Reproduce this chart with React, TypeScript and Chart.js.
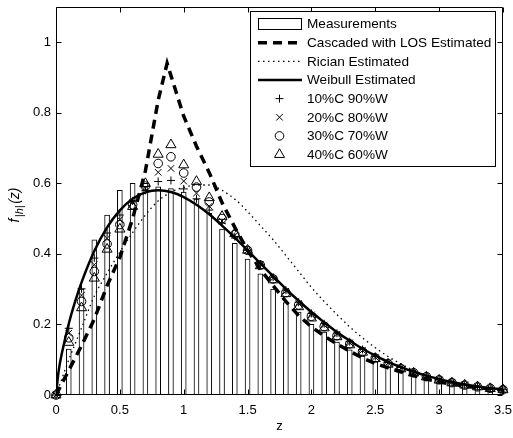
import React, { useEffect, useRef } from 'react';
import { Chart, registerables } from 'chart.js';

Chart.register(...registerables);

const FONT = '"Liberation Sans", Arial, Helvetica, sans-serif';

// Measured histogram (bin centres and normalised heights)
const histZ = [
  0.1, 0.2, 0.3, 0.4, 0.5, 0.6, 0.7, 0.8, 0.9, 1.0, 1.1, 1.2, 1.3, 1.4, 1.5, 1.6, 1.7,
  1.8, 1.9, 2.0, 2.1, 2.2, 2.3, 2.4, 2.5, 2.6, 2.7, 2.8, 2.9, 3.0, 3.1, 3.2, 3.3, 3.4,
];
const histDensity = [
  0.13, 0.3, 0.44, 0.51, 0.58, 0.6, 0.6, 0.59, 0.585, 0.575, 0.555, 0.515, 0.47, 0.43,
  0.385, 0.343, 0.3, 0.262, 0.235, 0.2, 0.178, 0.15, 0.128, 0.11, 0.095, 0.08, 0.068,
  0.058, 0.05, 0.042, 0.035, 0.03, 0.024, 0.02,
];

// Fitted densities
const curveZ = [
  0, 0.02, 0.05, 0.1, 0.15, 0.2, 0.3, 0.4, 0.5, 0.6, 0.7, 0.8, 0.9, 1.0, 1.1, 1.2, 1.3,
  1.4, 1.5, 1.6, 1.7, 1.8, 1.9, 2.0, 2.1, 2.2, 2.3, 2.4, 2.5, 2.6, 2.7, 2.8, 2.9, 3.0,
  3.1, 3.2, 3.3, 3.4, 3.5,
];
const weibullPdf = [
  0, 0.066, 0.125, 0.202, 0.265, 0.319, 0.408, 0.475, 0.523, 0.556, 0.574, 0.58, 0.575,
  0.561, 0.539, 0.512, 0.48, 0.446, 0.41, 0.373, 0.337, 0.301, 0.267, 0.235, 0.206,
  0.178, 0.154, 0.131, 0.112, 0.094, 0.079, 0.066, 0.055, 0.045, 0.037, 0.03, 0.024,
  0.019, 0.016,
];
const ricianPdf = [
  0, 0.02, 0.05, 0.1, 0.145, 0.19, 0.28, 0.345, 0.405, 0.46, 0.51, 0.55, 0.575, 0.588,
  0.595, 0.595, 0.58, 0.555, 0.52, 0.48, 0.44, 0.395, 0.35, 0.305, 0.265, 0.228, 0.193,
  0.162, 0.134, 0.109, 0.088, 0.07, 0.056, 0.044, 0.035, 0.028, 0.022, 0.018, 0.015,
];

const cascadedZ = [
  0, 0.1, 0.2, 0.3, 0.4, 0.5, 0.6, 0.7, 0.8, 0.87, 0.9, 1.0, 1.1, 1.2, 1.3, 1.4, 1.5,
  1.6, 1.7, 1.8, 1.9, 2.0, 2.1, 2.2, 2.3, 2.4, 2.5, 2.6, 2.7, 2.8, 2.9, 3.0, 3.1, 3.2,
  3.3, 3.4, 3.5,
];
const cascadedPdf = [
  0, 0.07, 0.14, 0.215, 0.31, 0.39, 0.5, 0.635, 0.835, 0.94, 0.905, 0.79, 0.705, 0.63,
  0.545, 0.475, 0.41, 0.356, 0.31, 0.265, 0.225, 0.193, 0.167, 0.145, 0.124, 0.105,
  0.089, 0.077, 0.066, 0.055, 0.045, 0.037, 0.031, 0.025, 0.021, 0.017, 0.014,
];

// Mixture estimates (cascaded / Weibull weights)
const mixZ = [
  0, 0.1, 0.2, 0.3, 0.4, 0.5, 0.6, 0.7, 0.8, 0.9, 1.0, 1.1, 1.2, 1.3, 1.4, 1.5, 1.6,
  1.7, 1.8, 1.9, 2.0, 2.1, 2.2, 2.3, 2.4, 2.5, 2.6, 2.7, 2.8, 2.9, 3.0, 3.1, 3.2, 3.3,
  3.4, 3.5,
];
const mix10 = [
  0, 0.189, 0.301, 0.388, 0.459, 0.51, 0.55, 0.58, 0.605, 0.608, 0.584, 0.556, 0.524,
  0.487, 0.449, 0.41, 0.371, 0.334, 0.297, 0.263, 0.231, 0.202, 0.175, 0.151, 0.129,
  0.109, 0.092, 0.078, 0.065, 0.054, 0.044, 0.036, 0.029, 0.024, 0.019, 0.015,
];
const mix20 = [
  0, 0.175, 0.283, 0.369, 0.444, 0.497, 0.545, 0.586, 0.631, 0.642, 0.606, 0.572, 0.535,
  0.493, 0.452, 0.41, 0.37, 0.331, 0.294, 0.259, 0.227, 0.198, 0.172, 0.148, 0.126,
  0.107, 0.091, 0.076, 0.064, 0.053, 0.043, 0.036, 0.029, 0.024, 0.019, 0.015,
];
const mix30 = [
  0, 0.162, 0.265, 0.35, 0.428, 0.483, 0.539, 0.592, 0.656, 0.675, 0.629, 0.589, 0.547,
  0.5, 0.455, 0.41, 0.368, 0.329, 0.29, 0.255, 0.223, 0.194, 0.168, 0.145, 0.123, 0.105,
  0.089, 0.075, 0.063, 0.052, 0.043, 0.035, 0.028, 0.023, 0.019, 0.015,
];
const mix40 = [
  0, 0.149, 0.247, 0.331, 0.413, 0.47, 0.534, 0.599, 0.682, 0.709, 0.652, 0.605, 0.559,
  0.506, 0.457, 0.41, 0.366, 0.326, 0.287, 0.25, 0.218, 0.19, 0.165, 0.142, 0.121, 0.103,
  0.087, 0.074, 0.062, 0.051, 0.042, 0.034, 0.028, 0.023, 0.018, 0.015,
];

const xTicks = [0, 0.5, 1, 1.5, 2, 2.5, 3, 3.5];
const yTicks = [0, 0.2, 0.4, 0.6, 0.8, 1];

const legendLabels = [
  'Measurements',
  'Cascaded with LOS Estimated',
  'Rician Estimated',
  'Weibull Estimated',
  '10%C 90%W',
  '20%C 80%W',
  '30%C 70%W',
  '40%C 60%W',
];

const W = 513;
const H = 438;
const TICK = 5;

const pts = (xs: number[], ys: number[]) => xs.map((x, i) => ({ x, y: ys[i] }));

function drawMarker(ctx: CanvasRenderingContext2D, style: string, x: number, y: number, r: number) {
  ctx.beginPath();
  if (style === 'cross') {
    ctx.moveTo(x - r, y);
    ctx.lineTo(x + r, y);
    ctx.moveTo(x, y - r);
    ctx.lineTo(x, y + r);
  } else if (style === 'crossRot') {
    const o = r * Math.SQRT1_2;
    ctx.moveTo(x - o, y - o);
    ctx.lineTo(x + o, y + o);
    ctx.moveTo(x - o, y + o);
    ctx.lineTo(x + o, y - o);
  } else if (style === 'circle') {
    ctx.arc(x, y, r, 0, Math.PI * 2);
  } else {
    ctx.moveTo(x, y - r);
    ctx.lineTo(x + Math.sin((2 * Math.PI) / 3) * r, y + 0.5 * r);
    ctx.lineTo(x - Math.sin((2 * Math.PI) / 3) * r, y + 0.5 * r);
    ctx.closePath();
  }
  ctx.stroke();
}

const markerStyles = [
  { style: 'cross', radius: 4 },
  { style: 'crossRot', radius: 4.6 },
  { style: 'circle', radius: 4.3 },
  { style: 'triangle', radius: 5.8 },
];

const frameAndLegend = {
  id: 'frameAndLegend',
  afterDraw(chart: any) {
    const { ctx, chartArea: a } = chart;
    const xs = chart.scales.x;
    const ys = chart.scales.y;
    const l = Math.round(a.left) + 0.5;
    const r = Math.round(a.right) - 0.5;
    const t = Math.round(a.top) + 0.5;
    const b = Math.round(a.bottom) - 0.5;

    ctx.save();
    // axes box with inward ticks
    ctx.strokeStyle = '#000';
    ctx.lineWidth = 1;
    ctx.setLineDash([]);
    ctx.beginPath();
    ctx.rect(l, t, r - l, b - t);
    xTicks.forEach((v) => {
      const p = Math.round(xs.getPixelForValue(v)) + 0.5;
      ctx.moveTo(p, b);
      ctx.lineTo(p, b - TICK);
      ctx.moveTo(p, t);
      ctx.lineTo(p, t + TICK);
    });
    yTicks.forEach((v) => {
      const p = Math.round(ys.getPixelForValue(v)) + 0.5;
      ctx.moveTo(l, p);
      ctx.lineTo(l + TICK, p);
      ctx.moveTo(r, p);
      ctx.lineTo(r - TICK, p);
    });
    ctx.stroke();

    // axis titles
    ctx.fillStyle = '#000';
    ctx.font = `13px ${FONT}`;
    ctx.textAlign = 'center';
    ctx.textBaseline = 'middle';
    ctx.fillText('z', (a.left + a.right) / 2, 426);

    ctx.save();
    ctx.translate(19, 205);
    ctx.rotate(-Math.PI / 2);
    ctx.textAlign = 'left';
    ctx.textBaseline = 'alphabetic';
    const mainFont = `italic 14px ${FONT}`;
    const subFont = `italic 11px ${FONT}`;
    ctx.font = mainFont;
    const wf = ctx.measureText('f').width;
    const wz = ctx.measureText('(z)').width;
    ctx.font = subFont;
    const ws = ctx.measureText('|h|').width;
    const gap = 1.5;
    let tx = -(wf + gap + ws + gap + wz) / 2;
    ctx.font = mainFont;
    ctx.fillText('f', tx, 0);
    tx += wf + gap;
    ctx.font = subFont;
    ctx.fillText('|h|', tx, 3.5);
    tx += ws + gap;
    ctx.font = mainFont;
    ctx.fillText('(z)', tx, 0);
    ctx.restore();

    // legend
    const box = { left: 250.5, top: 11.5, right: 495.5, bottom: 166.5 };
    ctx.fillStyle = '#fff';
    ctx.fillRect(box.left, box.top, box.right - box.left, box.bottom - box.top);
    ctx.strokeStyle = '#000';
    ctx.lineWidth = 1;
    ctx.strokeRect(box.left, box.top, box.right - box.left, box.bottom - box.top);

    const sx0 = 258;
    const sx1 = 302;
    const mx = 279.5;
    const textX = 307;
    const rowY = (i: number) => 24 + i * 18.65;

    ctx.font = `13.6px ${FONT}`;
    ctx.textAlign = 'left';
    ctx.textBaseline = 'middle';
    legendLabels.forEach((label, i) => {
      const y = rowY(i);
      ctx.save();
      ctx.strokeStyle = '#000';
      if (i === 0) {
        ctx.lineWidth = 1;
        ctx.fillStyle = '#fff';
        ctx.fillRect(sx0 + 0.5, y - 5.5, sx1 - sx0 - 1, 11);
        ctx.strokeRect(sx0 + 0.5, y - 5.5, sx1 - sx0 - 1, 11);
      } else if (i === 1) {
        ctx.lineWidth = 3.5;
        ctx.setLineDash([9, 6]);
        ctx.beginPath();
        ctx.moveTo(sx0, y);
        ctx.lineTo(sx1, y);
        ctx.stroke();
      } else if (i === 2) {
        ctx.lineWidth = 1.3;
        ctx.setLineDash([1.5, 3.5]);
        ctx.beginPath();
        ctx.moveTo(sx0, y);
        ctx.lineTo(sx1, y);
        ctx.stroke();
      } else if (i === 3) {
        ctx.lineWidth = 2.5;
        ctx.beginPath();
        ctx.moveTo(sx0, y);
        ctx.lineTo(sx1, y);
        ctx.stroke();
      } else {
        const m = markerStyles[i - 4];
        ctx.lineWidth = 1;
        drawMarker(ctx, m.style, mx, y, m.radius);
      }
      ctx.restore();
      ctx.fillStyle = '#000';
      ctx.fillText(label, textX, y + 0.5);
    });

    ctx.restore();
  },
};

export default function App() {
  const canvasRef = useRef<HTMLCanvasElement | null>(null);

  useEffect(() => {
    const canvas = canvasRef.current;
    if (!canvas) return;

    const markerSets = [mix10, mix20, mix30, mix40].map((values, i) => ({
      type: 'line' as const,
      label: legendLabels[4 + i],
      data: pts(mixZ, values),
      showLine: false,
      pointStyle: markerStyles[i].style,
      pointRadius: markerStyles[i].radius,
      pointBorderColor: '#000',
      pointBackgroundColor: 'rgba(0,0,0,0)',
      pointBorderWidth: 1,
      clip: false as any,
      order: 1 + i,
    }));

    const chart = new Chart(canvas, {
      type: 'line',
      data: {
        datasets: [
          ...markerSets,
          {
            type: 'line',
            label: legendLabels[3],
            data: pts(curveZ, weibullPdf),
            borderColor: '#000',
            borderWidth: 2.5,
            pointRadius: 0,
            cubicInterpolationMode: 'monotone',
            order: 5,
          },
          {
            type: 'line',
            label: legendLabels[1],
            data: pts(cascadedZ, cascadedPdf),
            borderColor: '#000',
            borderWidth: 3.5,
            borderDash: [9, 6],
            borderCapStyle: 'butt',
            pointRadius: 0,
            tension: 0,
            order: 6,
          },
          {
            type: 'line',
            label: legendLabels[2],
            data: pts(curveZ, ricianPdf),
            borderColor: '#000',
            borderWidth: 1.3,
            borderDash: [1.5, 3.5],
            pointRadius: 0,
            cubicInterpolationMode: 'monotone',
            order: 7,
          },
          {
            type: 'bar',
            label: legendLabels[0],
            data: pts(histZ, histDensity),
            backgroundColor: '#fff',
            borderColor: '#000',
            borderWidth: 1,
            barThickness: 5,
            order: 10,
          } as any,
        ],
      },
      options: {
        responsive: false,
        animation: false,
        events: [],
        layout: { padding: { left: 0, top: 4, right: 10, bottom: 0 } },
        plugins: {
          legend: { display: false },
          tooltip: { enabled: false },
        },
        scales: {
          x: {
            type: 'linear',
            min: 0,
            max: 3.5,
            offset: false,
            grid: { display: false, drawTicks: false },
            border: { display: false },
            ticks: {
              color: '#000',
              font: { family: FONT, size: 13 },
              padding: 8,
              maxRotation: 0,
              autoSkip: false,
              callback: (v: any) => String(v),
            },
            afterBuildTicks: (s: any) => {
              s.ticks = xTicks.map((value) => ({ value }));
            },
            afterFit: (s: any) => {
              s.height = H - 395;
              s.paddingLeft = 0;
              s.paddingRight = 0;
            },
          },
          y: {
            type: 'linear',
            min: 0,
            max: 1.1,
            grid: { display: false, drawTicks: false },
            border: { display: false },
            ticks: {
              color: '#000',
              font: { family: FONT, size: 13 },
              padding: 5,
              autoSkip: false,
              callback: (v: any) => String(v),
            },
            afterBuildTicks: (s: any) => {
              s.ticks = yTicks.map((value) => ({ value }));
            },
            afterFit: (s: any) => {
              s.width = 56;
              s.paddingTop = 0;
              s.paddingBottom = 0;
            },
          },
        },
      },
      plugins: [frameAndLegend],
    } as any);

    return () => chart.destroy();
  }, []);

  return (
    <div style={{ position: 'fixed', left: 0, top: 0, width: W, height: H, background: '#fff' }}>
      <canvas ref={canvasRef} width={W} height={H} style={{ display: 'block', width: W, height: H }} />
    </div>
  );
}
